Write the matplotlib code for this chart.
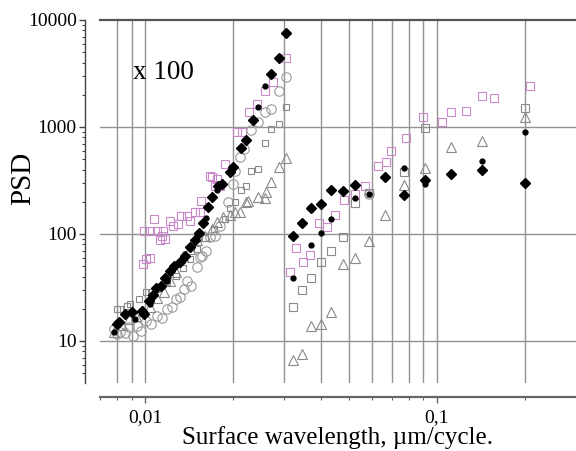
import matplotlib
matplotlib.use("Agg")
import matplotlib.pyplot as plt
from matplotlib.ticker import FixedLocator, FixedFormatter, NullFormatter

plt.rcParams['font.family'] = ['Liberation Serif', 'DejaVu Serif']

# black filled diamonds
diam_x = [0.0080, 0.00815, 0.00855, 0.00901, 0.00974, 0.0099, 0.01032, 0.0106, 0.0109, 0.0113,
          0.0117, 0.0122, 0.0126, 0.0132, 0.0137, 0.0142, 0.0148, 0.0153, 0.0158, 0.0164,
          0.0170, 0.0178, 0.0183, 0.0195, 0.0200, 0.0213, 0.0222, 0.0234, 0.0271, 0.0287, 0.0303,
          0.03225, 0.0345, 0.0371, 0.0401, 0.0435, 0.0478, 0.0525, 0.0665, 0.0769, 0.0908,
          0.1115, 0.1432, 0.201]
diam_y = [14.5, 15.1, 17.9, 18.8, 19.2, 18.0, 23.8, 27, 31, 32.4,
          39, 45.4, 50, 54.4, 62, 75, 88, 101.6, 128, 178,
          220, 283, 293, 377, 420, 632, 761, 1171, 3128, 4385, 7510,
          95.7, 126, 175, 191, 258, 252, 287, 343, 233, 320,
          364, 399, 300]

# small black dots
dot_x = [0.00784, 0.0092, 0.0104, 0.0119, 0.0135, 0.0150, 0.0162, 0.0176, 0.0244, 0.0257,
         0.03225, 0.0371, 0.0401, 0.0435, 0.0525, 0.0586, 0.0769, 0.0908, 0.1432, 0.201]
dot_y = [12.1, 16, 22, 36, 58, 95, 140, 260, 1527, 2416,
         39, 79, 103, 138, 216, 235, 414, 293, 478, 898]

# open circles
circ_x = [0.0078, 0.0080, 0.00822, 0.0085, 0.0088, 0.0091, 0.0094, 0.0097, 0.0101, 0.0105,
          0.0110, 0.0114, 0.0119, 0.0124, 0.0128, 0.0132, 0.0136, 0.0139, 0.0144, 0.0150,
          0.0154, 0.0156, 0.0162, 0.0167, 0.0173, 0.0180, 0.0192, 0.0200, 0.0204, 0.0211,
          0.0219, 0.0230, 0.0244, 0.0257, 0.0271, 0.0287, 0.0305, 0.0586]
circ_y = [12.9, 11.5, 12.1, 11.8, 13.4, 11.2, 13.9, 12.5, 15.5, 14.5,
          17.2, 16.5, 19.9, 21, 24.7, 26, 30.6, 36.6, 33, 49,
          60.6, 62.7, 70, 93, 96, 120, 200, 293, 390, 520,
          620, 930, 1107, 1371, 1473, 2184, 2913, 235]

# small grey squares
sq_small_x = [0.0080, 0.0082, 0.00866, 0.0089, 0.0095, 0.0101, 0.0105, 0.0110, 0.0114, 0.0119,
              0.0128, 0.0135, 0.0142, 0.0150, 0.0160, 0.0172, 0.0188, 0.0195, 0.0203, 0.0213,
              0.0222, 0.0231, 0.0244, 0.0257, 0.0271, 0.0287, 0.0305]
sq_small_y = [19.9, 20, 21.4, 22, 24.7, 28.5, 29, 30.6, 33, 35.4,
              40.9, 48, 58, 72, 92, 112, 138, 175, 200, 259,
              283, 390, 405, 715, 955, 1066, 1527]

# grey squares
sq_x = [0.03225, 0.0345, 0.0371, 0.0401, 0.0435, 0.0478, 0.0525, 0.0586, 0.0769, 0.0908, 0.201]
sq_y = [20.9, 30, 38.5, 54.4, 69.8, 93, 195, 240, 377, 979, 1506]

# open triangles
tri_x = [0.0078, 0.0083, 0.0088, 0.0093, 0.0098, 0.0104, 0.0110, 0.0116, 0.0122, 0.0128,
         0.0135, 0.0142, 0.0150, 0.0160, 0.0169, 0.0176, 0.0185, 0.0195, 0.0203, 0.0211,
         0.0222, 0.0225, 0.0244, 0.0257, 0.0260, 0.0271, 0.0287, 0.0305,
         0.03225, 0.0345, 0.0371, 0.0401, 0.0435, 0.0475, 0.0525, 0.0586, 0.0665, 0.0769,
         0.0908, 0.1115, 0.1432, 0.201]
tri_y = [12.1, 14, 16, 17, 19, 21, 25, 29, 36, 44,
         62.6, 72.5, 87, 96, 111, 129, 143, 150, 159, 159,
         198, 202, 220, 217, 245, 304, 420, 510,
         6.7, 7.6, 13.7, 14.4, 18.8, 52.4, 59.7, 86.6, 150.6, 289,
         414, 655, 735, 1248]

# pink squares
pink_x = [0.00985, 0.0101, 0.0104, 0.0099, 0.0104, 0.0107, 0.0110, 0.0114, 0.01125, 0.01155,
          0.0117, 0.0122, 0.0125, 0.0130, 0.0133, 0.0139, 0.0142, 0.0148, 0.0154, 0.0155,
          0.0167, 0.0169, 0.0173, 0.0176, 0.0180, 0.0188, 0.0207, 0.0214, 0.0227, 0.0241,
          0.0257, 0.0274, 0.0305,
          0.0313, 0.0330, 0.0347, 0.0368, 0.0394, 0.0420, 0.0449, 0.0482, 0.0525, 0.0568,
          0.0629, 0.0668, 0.0697, 0.0782, 0.0896, 0.104, 0.1115, 0.1256, 0.1432, 0.1574, 0.209]
pink_y = [52, 58, 60, 106, 107, 138, 107, 96, 87, 107,
          90, 133, 120, 124, 148, 148, 133, 160, 160, 205,
          351, 339, 283, 325, 283, 451, 892, 892, 1371, 1641,
          2184, 2616, 4385,
          43.8, 73.5, 55, 63.7, 127.5, 116, 151, 208, 236, 283,
          435, 468, 593, 784, 1240, 1107, 1371, 1419, 1963, 1866, 2416]

grid_x = [0.008, 0.009, 0.01, 0.02, 0.03, 0.04, 0.05, 0.06, 0.07, 0.08, 0.09, 0.1, 0.2]
grid_y = [10, 100, 1000]

fig = plt.figure(figsize=(5.76, 4.51), dpi=100)
ax = fig.add_axes([0.1736, 0.1508, 0.8264, 0.8049])
ax.set_xscale('log')
ax.set_yscale('log')
ax.set_xlim(0.007, 0.3)
ax.set_ylim(4.05, 10000)

for gx in grid_x:
    ax.axvline(gx, color='#939393', lw=1.0, zorder=1)
for gy in grid_y:
    ax.axhline(gy, color='#939393', lw=1.0, zorder=1)

ax.plot(pink_x, pink_y, 's', ms=6, mfc='none', mec='#c98ac9', mew=0.8, zorder=3)
ax.plot(sq_small_x, sq_small_y, 's', ms=4, mfc='none', mec='#8a8a8a', mew=0.8, zorder=3)
ax.plot(sq_x, sq_y, 's', ms=6, mfc='none', mec='#8a8a8a', mew=0.8, zorder=3)
ax.plot(circ_x, circ_y, 'o', ms=6.8, mfc='none', mec='#9a9a9a', mew=0.8, zorder=3)
ax.plot(tri_x, tri_y, '^', ms=7.5, mfc='none', mec='#8a8a8a', mew=0.8, zorder=3)
ax.plot(diam_x, diam_y, 'D', ms=5.2, mfc='black', mec='black', zorder=4)
ax.plot(dot_x, dot_y, 'o', ms=3.5, mfc='black', mec='black', zorder=5)

ax.text(0.069, 0.854, 'x 100', transform=ax.transAxes, ha='left', va='center', fontsize=19.5)

ax.spines['right'].set_visible(False)
ax.spines['top'].set_color('#555555')
ax.spines['top'].set_linewidth(1.6)
ax.spines['left'].set_color('#444444')
ax.spines['left'].set_linewidth(1.0)
ax.spines['left'].set_position(('outward', 10.8))
ax.spines['bottom'].set_color('#666666')
ax.spines['bottom'].set_linewidth(1.6)
ax.spines['bottom'].set_position(('outward', 10))

ax.xaxis.set_major_locator(FixedLocator([0.01, 0.1]))
ax.xaxis.set_major_formatter(FixedFormatter(['0,01', '0,1']))
ax.xaxis.set_minor_locator(FixedLocator([0.007, 0.008, 0.009, 0.02, 0.03, 0.04, 0.05,
                                         0.06, 0.07, 0.08, 0.09, 0.2, 0.3]))
ax.xaxis.set_minor_formatter(NullFormatter())
ax.yaxis.set_major_locator(FixedLocator([10, 100, 1000, 10000]))
ax.yaxis.set_major_formatter(FixedFormatter(['10', '100', '1000', '10000']))
ax.yaxis.set_minor_locator(FixedLocator([m * 10 ** e for e in range(0, 4) for m in range(2, 10)
                                         if 4 <= m * 10 ** e <= 10000]))
ax.yaxis.set_minor_formatter(NullFormatter())

ax.tick_params(which='major', direction='out', length=4, width=1, color='#444444',
               labelsize=14, pad=2)
ax.tick_params(which='minor', direction='out', length=2.5, width=0.8, color='#444444')
ax.tick_params(axis='x', which='both', color='#666666', pad=5)

ax.set_ylabel('PSD', fontsize=21)
ax.yaxis.set_label_coords(-0.134, 0.565)
ax.set_xlabel('Surface wavelength, µm/cycle.', fontsize=18, labelpad=0)

fig.savefig('out.png', dpi=100)
